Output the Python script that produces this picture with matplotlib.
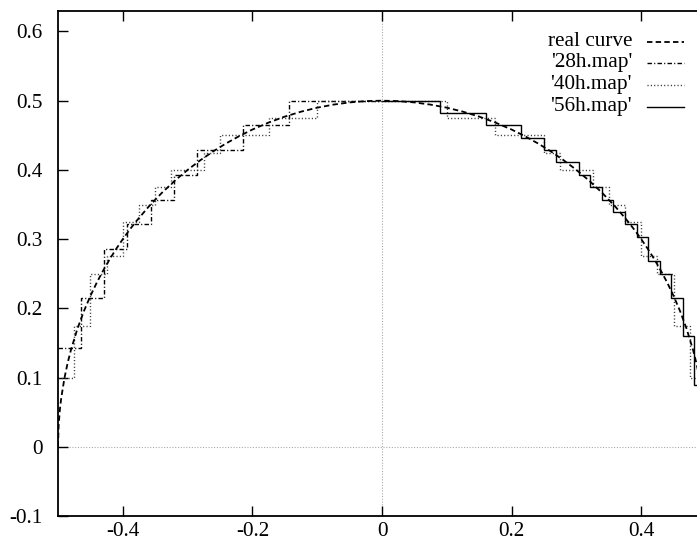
import matplotlib
matplotlib.use("Agg")
import matplotlib.pyplot as plt
from matplotlib.lines import Line2D

plt.rcParams['font.family'] = ['Liberation Serif', 'DejaVu Serif']
plt.rcParams['axes.unicode_minus'] = False

# ---- data ----
real_x = [-0.5, -0.499, -0.497, -0.495, -0.49, -0.485, -0.48, -0.47, -0.46, -0.45, -0.44, -0.43,
          -0.42, -0.41, -0.4, -0.39, -0.38, -0.36, -0.34, -0.32, -0.3, -0.28, -0.26, -0.24,
          -0.22, -0.2, -0.175, -0.15, -0.125, -0.1, -0.075, -0.05, -0.025, 0.0,
          0.025, 0.05, 0.075, 0.1, 0.125, 0.15, 0.175, 0.2, 0.22, 0.24, 0.26, 0.28, 0.3,
          0.32, 0.34, 0.36, 0.38, 0.39, 0.4, 0.41, 0.42, 0.43, 0.44, 0.45, 0.46, 0.47, 0.48,
          0.485, 0.49, 0.495, 0.497, 0.499, 0.5]
real_y = [0.0, 0.0316, 0.0547, 0.0705, 0.0995, 0.1216, 0.14, 0.1706, 0.196, 0.2179, 0.2375, 0.2551,
          0.2713, 0.2862, 0.3, 0.3129, 0.325, 0.347, 0.3666, 0.3842, 0.4, 0.4142, 0.4271, 0.4386,
          0.4490, 0.4583, 0.4684, 0.4770, 0.4841, 0.4899, 0.4943, 0.4975, 0.4994, 0.5,
          0.4994, 0.4975, 0.4943, 0.4899, 0.4841, 0.4770, 0.4684, 0.4583, 0.4490, 0.4386, 0.4271, 0.4142, 0.4,
          0.3842, 0.3666, 0.347, 0.325, 0.3129, 0.3, 0.2862, 0.2713, 0.2551, 0.2375, 0.2179, 0.196, 0.1706, 0.14,
          0.1216, 0.0995, 0.0705, 0.0547, 0.0316, 0.0]

map28_edges = [-0.5, -0.4643, -0.4286, -0.3929, -0.3571, -0.3214, -0.2857, -0.2143, -0.1429, 0.0]
map28_levels = [0.1429, 0.2143, 0.2857, 0.3214, 0.3571, 0.3929, 0.4286, 0.4643, 0.5]

map40_edges = [-0.5, -0.475, -0.45, -0.425, -0.4, -0.375, -0.35, -0.325, -0.275, -0.25, -0.225,
               -0.175, -0.1, 0.1, 0.175, 0.225, 0.25, 0.275, 0.325, 0.35, 0.375, 0.4, 0.425,
               0.45, 0.475, 0.5]
map40_levels = [0.1, 0.175, 0.25, 0.275, 0.325, 0.35, 0.375, 0.4, 0.425, 0.45, 0.45,
                0.475, 0.5, 0.475, 0.45, 0.45, 0.425, 0.4, 0.375, 0.35, 0.325, 0.275,
                0.25, 0.175, 0.1]

map56_edges = [0.0, 0.0893, 0.1607, 0.2143, 0.25, 0.2679, 0.3036, 0.3214, 0.3393, 0.3571,
               0.375, 0.3929, 0.4107, 0.4286, 0.4464, 0.4643, 0.4821, 0.5]
map56_levels = [0.5, 0.4821, 0.4643, 0.4464, 0.4286, 0.4107, 0.3929, 0.375, 0.3571, 0.3393,
                0.3214, 0.3036, 0.2679, 0.25, 0.2143, 0.1607, 0.0893]

labels = ["real curve", "'28h.map'", "'40h.map'", "'56h.map'"]
xticks = [-0.4, -0.2, 0.0, 0.2, 0.4]
xticklabels = ["-0.4", "-0.2", "0", "0.2", "0.4"]
yticks = [-0.1, 0.0, 0.1, 0.2, 0.3, 0.4, 0.5, 0.6]
yticklabels = ["-0.1", "0", "0.1", "0.2", "0.3", "0.4", "0.5", "0.6"]

# ---- styles ----
st_real = dict(color='black', lw=1.3, linestyle=(0, (3.0, 1.8)))
st_28 = dict(color='black', lw=1.0, linestyle=(0, (3.2, 1.6, 0.8, 1.6)))
st_40 = dict(color='#333333', lw=1.0, linestyle=(0, (0.8, 1.6)))
st_56 = dict(color='black', lw=1.0, linestyle='-')

W, H = 697, 547
fig = plt.figure(figsize=(W / 100, H / 100), dpi=100)
ax = fig.add_axes([58 / W, (H - 516) / H, (706 - 58) / W, (516 - 10.7) / H])
ax.set_xlim(-0.5, 0.5)
ax.set_ylim(-0.1, 0.63)

ax.axhline(0, color='#aaaaaa', lw=0.8, linestyle=(0, (1, 1.5)), zorder=1)
ax.axvline(0, color='#aaaaaa', lw=0.8, linestyle=(0, (1, 1.5)), zorder=1)

ax.plot(real_x, real_y, zorder=3, **st_real)
ax.stairs(map28_levels, map28_edges, baseline=None, zorder=2, **st_28)
ax.stairs(map40_levels, map40_edges, baseline=None, zorder=2, **st_40)
ax.stairs(map56_levels, map56_edges, baseline=None, zorder=2, **st_56)

ax.set_xticks(xticks)
ax.set_xticklabels(xticklabels)
ax.set_yticks(yticks)
ax.set_yticklabels(yticklabels)
ax.tick_params(direction='in', length=7, width=1, labelsize=15.3, top=True, right=False,
               colors='black')
ax.tick_params(axis='y', pad=11)
ax.tick_params(axis='x', pad=4)
for s in ax.spines.values():
    s.set_linewidth(1.3)

# legend (gnuplot style: text right-aligned, sample on the right)
styles = [st_real, st_28, st_40, st_56]
rows = [42, 63, 85, 107]
for lab, st, yy in zip(labels, styles, rows):
    fig.text(632 / W, 1 - yy / H, lab, ha='right', va='center', fontsize=15.3)
    fig.add_artist(Line2D([647 / W, 684 / W], [1 - yy / H, 1 - yy / H],
                          transform=fig.transFigure, **st))

fig.savefig("out.png", dpi=100)
